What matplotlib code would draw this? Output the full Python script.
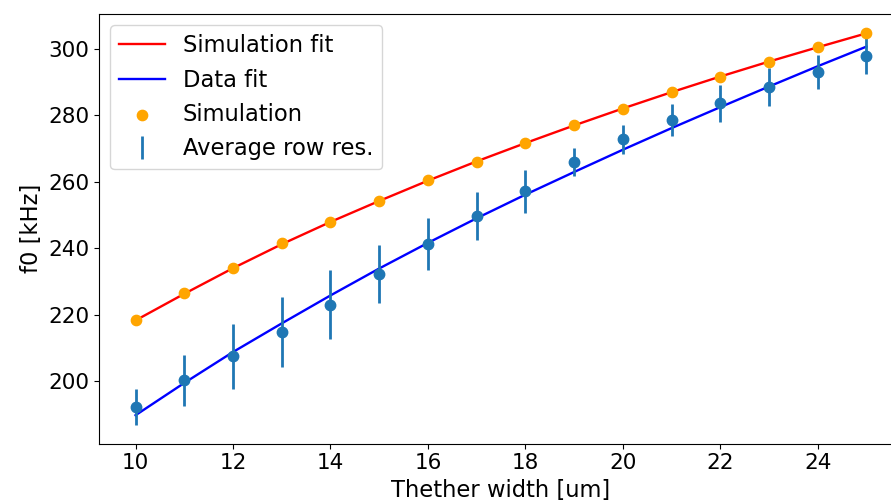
import matplotlib
matplotlib.use("Agg")
import matplotlib.pyplot as plt

width = [10, 11, 12, 13, 14, 15, 16, 17, 18, 19, 20, 21, 22, 23, 24, 25]
sim = [218.3, 226.4, 234.2, 241.5, 248.0, 254.1, 260.4, 266.0, 271.5, 276.9,
       281.8, 287.0, 291.5, 296.0, 300.4, 304.6]
sim_fit = [218.3, 226.3, 234.0, 241.2, 247.9, 254.2, 260.3, 266.1, 271.6, 276.9,
           282.0, 286.9, 291.6, 296.1, 300.4, 304.6]
data = [192.3, 200.3, 207.5, 214.8, 223.0, 232.3, 241.2, 249.6, 257.1, 265.9,
        272.7, 278.4, 283.5, 288.5, 293.0, 297.7]
data_err = [5.3, 7.7, 9.7, 10.4, 10.4, 8.8, 7.8, 7.2, 6.4, 4.2,
            4.3, 4.8, 5.7, 5.8, 5.2, 5.4]
data_fit = [189.8, 199.5, 208.8, 217.4, 225.8, 233.9, 241.6, 249.0, 256.1, 262.9,
            269.6, 276.1, 282.4, 288.6, 294.7, 300.6]

plt.rcParams['font.size'] = 15.5

fig = plt.figure(figsize=(8.91, 5.01), dpi=100)
ax = fig.add_axes([99 / 891, 57.5 / 501, 804 / 891, 429.5 / 501])

ax.plot(width, sim_fit, color='red', lw=1.7, label='Simulation fit')
ax.plot(width, data_fit, color='blue', lw=1.7, label='Data fit')
ax.scatter(width, sim, color='orange', s=55, zorder=3, label='Simulation')
ax.errorbar(width, data, yerr=data_err, fmt='none', ecolor='C0', elinewidth=2,
            label='Average row res.')
ax.plot(width, data, 'o', color='C0', ms=7.5, zorder=4)

ax.set_xlim(9.25, 25.75)
ax.set_ylim(181.3, 310.4)
ax.set_xticks([10, 12, 14, 16, 18, 20, 22, 24])
ax.set_yticks([200, 220, 240, 260, 280, 300])
ax.set_xlabel('Thether width [um]', fontsize=16.3)
ax.set_ylabel('f0 [kHz]', fontsize=16.3)
ax.legend(loc='upper left', fontsize=16.3)

fig.savefig('out.png', dpi=100)
